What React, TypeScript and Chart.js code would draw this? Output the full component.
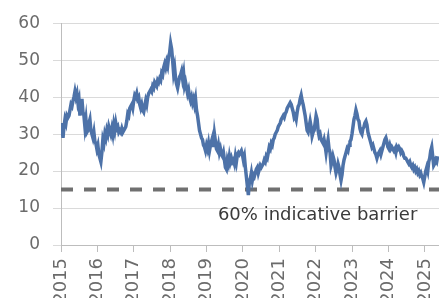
import React, { useEffect, useRef } from "react";
import { Chart, registerables } from "chart.js";

Chart.register(...registerables);

// Observations roughly every 10 days starting 1 Jan 2015
const startYear = 2015;
const stepDays = 10;
const values: number[] = [
  // 2015
  30, 33, 29, 32, 34, 33, 35, 34.5, 35, 36.5, 38, 37.5, 39, 40, 41.5, 40, 41, 38.5, 39.5, 35,
  37, 39.5, 36, 35, 32, 34, 30.5, 31, 33, 34, 31, 30, 29, 30.5, 28, 27.5,
  // 2016
  26, 27, 24.5, 23.5, 22.5, 25, 28.5, 27.5, 30, 29, 31, 30, 32, 31, 30, 31.5, 30, 32.5, 31, 33,
  31.5, 32, 30.5, 31, 30.5, 31.5, 30.5, 31, 31.5, 32, 33.5, 35.5, 35, 37, 37.5, 38, 37,
  // 2017
  39, 40.5, 40, 41, 39.5, 40, 38, 37, 38, 36.5, 36, 37.5, 39, 38, 40, 41, 41.5, 42, 41.5, 43,
  42.5, 44, 43.5, 43, 44.5, 44, 45, 44.5, 46.5, 46, 48, 49, 48, 49.5, 48.5, 51, 52,
  // 2018
  54.5, 53, 50, 46.5, 48, 45, 43.5, 42.5, 44, 45.5, 46, 47, 45, 46.5, 43, 44, 42.5, 41, 42, 40,
  39, 40, 38.5, 39.5, 38, 39.5, 36.5, 35, 33, 31, 30, 29, 28.5, 27, 26.5, 25.5,
  // 2019
  27, 26, 27.5, 25.5, 27, 28, 29, 26.5, 30, 28, 26, 25.5, 27, 25, 26, 24.5, 24, 25, 23, 21,
  20.5, 23, 22, 24, 22.5, 23.5, 22.5, 23, 22, 24, 22.5, 24.5, 25, 24.5, 25, 25.5, 24.5,
  // 2020
  23, 24, 21, 18.5, 16, 13.5, 17, 18, 19.5, 17.5, 19, 18.5, 19.5, 20.5, 21, 19.5, 20.5, 21.5, 21, 21.5,
  22, 23, 22.5, 24, 23.5, 25, 26.5, 26, 27.5, 27, 28.5, 29, 30, 30.5, 31, 32,
  // 2021
  32.5, 33, 34, 34.5, 35, 34.5, 35.5, 36, 37, 37.5, 38, 38.5, 38, 37, 36, 34.5, 35, 34, 36, 37.5,
  38, 39.5, 40.5, 39, 38, 36.5, 35, 33, 31, 30.5, 32, 33.5, 32, 29.5, 30.5, 31, 33,
  // 2022
  35, 34, 31, 29.5, 30, 28.5, 28, 27.5, 28.5, 27, 25, 27, 28.5, 26, 25, 21.5, 22.5, 24, 23, 21,
  19.5, 20.5, 22, 21, 19, 17.5, 19, 21.5, 23, 24, 25, 26, 25.5, 27, 28, 28.5,
  // 2023
  30, 32, 34, 35, 36.5, 35.5, 34, 33.5, 31.5, 30.5, 30, 31.5, 32, 33, 33.5, 32.5, 30.5, 29.5, 28.5, 27.5,
  26.5, 27, 26, 25, 24.5, 23.5, 24.5, 25, 25.5, 24.5, 25.5, 26.5, 27.5, 28.5, 29, 28, 26.5,
  // 2024
  26, 27, 26, 26.5, 26, 25.5, 26, 25, 26.5, 26, 26.5, 26, 25, 25.5, 25, 24, 23.5, 23.5, 23, 22.5,
  22, 22.5, 21.5, 21, 21.5, 20.5, 21, 20, 20.5, 19.5, 20, 19, 19.5, 18.5, 18, 17, 18.5,
  // 2025
  20, 21, 20, 22.5, 23.5, 25.5, 26.5, 24, 21.5, 22, 23, 22.5, 24,
];

const yearTicks = [2015, 2016, 2017, 2018, 2019, 2020, 2021, 2022, 2023, 2024, 2025];
const axisEnd = 2025.385;
const barrierLevel = 15;
const barrierLabel = "60% indicative barrier";
const barrierLabelAt = { x: 2022.05, y: 8.1 };

const FONT = "'DejaVu Sans', sans-serif";

export default function App() {
  const ref = useRef<HTMLCanvasElement | null>(null);

  useEffect(() => {
    document.body.style.margin = "0";
    const canvas = ref.current;
    if (!canvas) return;

    const points = values.map((v, i) => ({ x: startYear + (i * stepDays) / 365.25, y: v }));

    const labelPlugin = {
      id: "barrierLabel",
      afterDatasetsDraw(chart: any) {
        const { ctx, scales } = chart;
        const px = scales.x.getPixelForValue(barrierLabelAt.x);
        const py = scales.y.getPixelForValue(barrierLabelAt.y);
        ctx.save();
        ctx.font = `18px ${FONT}`;
        ctx.fillStyle = "#3a3a3a";
        ctx.textAlign = "center";
        ctx.textBaseline = "middle";
        ctx.fillText(barrierLabel, px, py);
        ctx.restore();
      },
    };

    const chart = new Chart(canvas, {
      type: "line",
      data: {
        datasets: [
          {
            data: points,
            borderColor: "#4d72a8",
            borderWidth: 3.5,
            pointRadius: 0,
            tension: 0,
            order: 0,
          },
          {
            data: [
              { x: startYear, y: barrierLevel },
              { x: axisEnd, y: barrierLevel },
            ],
            borderColor: "#707070",
            borderWidth: 4,
            borderDash: [12, 11],
            pointRadius: 0,
            order: 1,
          },
        ],
      },
      options: {
        animation: false,
        responsive: false,
        devicePixelRatio: 1,
        layout: { padding: { top: 23, right: 0, left: 0, bottom: 0 } },
        plugins: { legend: { display: false }, tooltip: { enabled: false } },
        scales: {
          x: {
            type: "linear",
            min: startYear,
            max: axisEnd,
            afterBuildTicks: (s: any) => {
              s.ticks = yearTicks.map((v) => ({ value: v }));
            },
            afterFit: (s: any) => {
              s.height = 53;
              s.paddingRight = 0;
              s.paddingLeft = 0;
            },
            grid: { drawOnChartArea: false, drawTicks: true, tickLength: 7, color: "#bdbdbd" },
            border: { color: "#bdbdbd" },
            ticks: {
              minRotation: 90,
              maxRotation: 90,
              autoSkip: false,
              padding: 6,
              color: "#6b6b6b",
              font: { family: FONT, size: 18 },
              callback: (v: any) => String(v),
            },
          },
          y: {
            min: 0,
            max: 60,
            afterFit: (s: any) => {
              s.width = 61;
            },
            grid: { color: "#dadada", tickLength: 8 },
            border: { color: "#bdbdbd" },
            ticks: {
              stepSize: 10,
              padding: 13,
              color: "#6b6b6b",
              font: { family: FONT, size: 17 },
            },
          },
        },
      },
      plugins: [labelPlugin],
    });

    return () => chart.destroy();
  }, []);

  return (
    <div style={{ width: 439, height: 298 }}>
      <canvas ref={ref} width={439} height={298} />
    </div>
  );
}
